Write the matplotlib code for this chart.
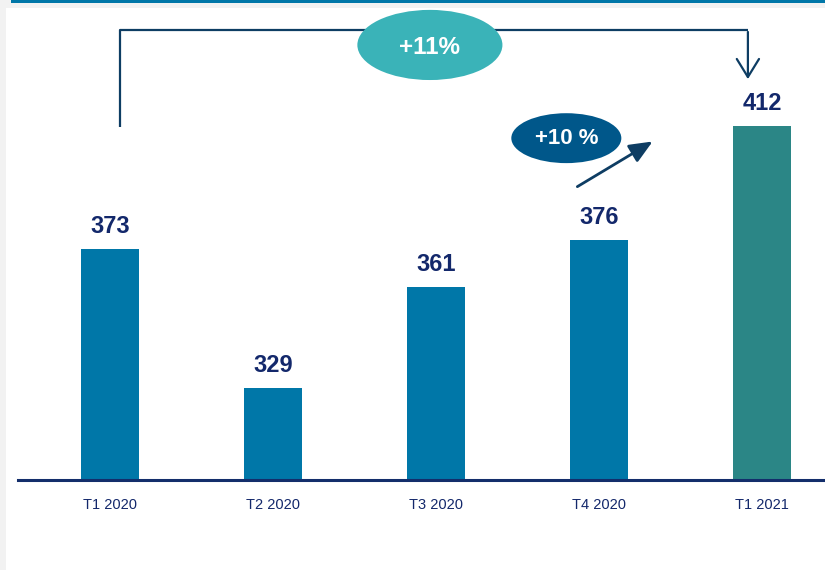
import matplotlib.pyplot as plt
from matplotlib.patches import Ellipse, Rectangle

# data
quarters = ["T1 2020", "T2 2020", "T3 2020", "T4 2020", "T1 2021"]
values = [373, 329, 361, 376, 412]
bar_colors = ["#0077A8", "#0077A8", "#0077A8", "#0077A8", "#2B8686"]
growth_year = "+11%"
growth_quarter = "+10 %"

navy = "#13286B"
line_col = "#0E3D63"

plt.rcParams['font.family'] = ['Liberation Sans', 'DejaVu Sans']

fig = plt.figure(figsize=(8.25, 5.7), dpi=100)
fig.patch.set_facecolor("#F2F2F2")

# white panel + top blue strip
fig.add_artist(Rectangle((6 / 825, 0), 1, 1 - 8 / 570, transform=fig.transFigure,
                         facecolor="white", edgecolor="none", zorder=0))
fig.add_artist(Rectangle((11 / 825, 1 - 3 / 570), 1, 3 / 570, transform=fig.transFigure,
                         facecolor="#0077A8", edgecolor="none", zorder=0))

ax = fig.add_axes([18 / 825, 1 - 480 / 570, 1 - 18 / 825, 472 / 570])
ax.set_facecolor("none")

x = list(range(len(quarters)))
bars = ax.bar(x, values, width=0.356, color=bar_colors, zorder=2)

ax.set_xlim(-0.564, 4.387)
ax.set_ylim(300, 449.4)

for b, v in zip(bars, values):
    ax.annotate(str(v), (b.get_x() + b.get_width() / 2, v), xytext=(0, 8),
                textcoords="offset points", ha="center", va="bottom",
                fontsize=17, fontweight="bold", color=navy)

ax.set_xticks(x)
ax.set_xticklabels(quarters, fontsize=10.5, color=navy)
ax.tick_params(axis="x", length=0, pad=13)
ax.set_yticks([])
for s in ["top", "right", "left"]:
    ax.spines[s].set_visible(False)
ax.spines["bottom"].set_color("#132E6B")
ax.spines["bottom"].set_linewidth(2.2)

# bracket from T1 2020 to T1 2021
y_top = 442.4
ax.plot([x[0] + 0.06, x[0] + 0.06, x[4] - 0.086], [values[0] + 38.7, y_top, y_top],
        color=line_col, lw=1.6, solid_capstyle="butt", zorder=3)
ax.annotate("", xy=(x[4] - 0.086, values[4] + 14), xytext=(x[4] - 0.086, y_top + 0.3),
            arrowprops=dict(arrowstyle="->,head_length=1.3,head_width=0.8",
                            color=line_col, lw=1.6), zorder=3)
ax.add_patch(Ellipse((1.963, 437.7), 0.89, 22.2, facecolor="#3AB3B8",
                     edgecolor="none", zorder=4))
ax.text(1.963, 437.0, growth_year, ha="center", va="center", fontsize=17.5,
        fontweight="bold", color="white", zorder=5)

# quarter growth arrow
ax.annotate("", xy=(3.344, 407.6), xytext=(2.853, 392.4),
            arrowprops=dict(arrowstyle="-|>,head_length=1.4,head_width=0.6",
                            color=line_col, lw=2), zorder=3)
ax.add_patch(Ellipse((2.80, 408.2), 0.675, 15.8, facecolor="#00578A",
                     edgecolor="none", zorder=4))
ax.text(2.80, 408.2, growth_quarter, ha="center", va="center", fontsize=16,
        fontweight="bold", color="white", zorder=5)

fig.savefig("out.png", dpi=100, facecolor=fig.get_facecolor())
